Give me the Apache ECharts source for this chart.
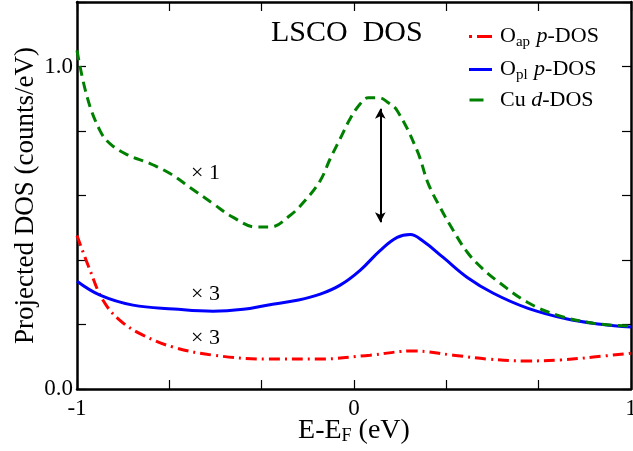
<!DOCTYPE html>
<html>
<head>
<meta charset="utf-8">
<script src="https://cdn.jsdelivr.net/npm/echarts@6/dist/echarts.min.js"></script>
<style>html,body{margin:0;padding:0;background:#fff;overflow:hidden}#c{width:633px;height:451px}</style>
</head>
<body>
<div id="c"></div>
<script>
// ---- data ----
const cuX = [-1, -0.963, -0.917, -0.881, -0.82, -0.736, -0.664, -0.592, -0.509, -0.436, -0.351, -0.303, -0.231, -0.176, -0.122, -0.086, -0.05, -0.014, 0.022, 0.051, 0.09, 0.12, 0.156, 0.228, 0.268, 0.311, 0.358, 0.409, 0.463, 0.528, 0.626, 0.734, 0.864, 1.0];
const cuY = [1.05, 0.904, 0.801, 0.761, 0.727, 0.699, 0.668, 0.625, 0.575, 0.532, 0.502, 0.502, 0.538, 0.585, 0.646, 0.714, 0.776, 0.838, 0.884, 0.903, 0.903, 0.89, 0.863, 0.739, 0.637, 0.563, 0.492, 0.424, 0.374, 0.328, 0.269, 0.229, 0.204, 0.195];
const oplX = [-1, -0.917, -0.798, -0.65, -0.509, -0.4, -0.314, -0.2, -0.122, -0.05, 0.022, 0.095, 0.156, 0.203, 0.25, 0.322, 0.409, 0.503, 0.626, 0.77, 0.89, 1.0];
const oplY = [0.334, 0.291, 0.26, 0.248, 0.241, 0.247, 0.26, 0.276, 0.294, 0.322, 0.368, 0.43, 0.47, 0.479, 0.458, 0.408, 0.346, 0.297, 0.251, 0.217, 0.201, 0.192];
const oapX = [-1, -0.953, -0.906, -0.845, -0.762, -0.653, -0.509, -0.314, -0.122, 0.058, 0.214, 0.358, 0.481, 0.626, 0.745, 0.864, 1.0];
const oapY = [0.476, 0.368, 0.275, 0.213, 0.167, 0.13, 0.105, 0.093, 0.093, 0.105, 0.118, 0.105, 0.093, 0.087, 0.09, 0.099, 0.111];
const arrowX = [0.095, 0.095];
const arrowY = [0.517, 0.869];
const seriesNames = ['Oap', 'Opl', 'Cu'];
const legendLabels = ['{t|O}{sub|ap}{t| }{it|p}{t|-DOS}', '{t|O}{sub|pl}{t| }{it|p}{t|-DOS}', '{t|Cu }{it|d}{t|-DOS}'];
const xTickLabels = ['-1', '0', '1'];
const yTickLabels = ['0.0', '1.0'];
const titleText = 'LSCO  DOS';
const factorLabels = ['\u00d7 1', '\u00d7 3', '\u00d7 3'];

const pairs = (xs, ys) => xs.map((x, i) => [x, ys[i]]);
const FONT = '"Liberation Serif", "DejaVu Serif", serif';

const chart = echarts.init(document.getElementById('c'), null, {renderer: 'canvas'});

const axisCommon = () => ({
  nameMoveOverlap: false,
  axisLine: {show: true, onZero: false, lineStyle: {color: '#000', width: 2.5}},
  axisTick: {show: true, inside: true, length: 9, lineStyle: {color: '#000', width: 1.2}},
  splitLine: {show: false}
});

// legend icons (line samples)
const legendIcons = [
  'path://M0,0h3v3h-3z M8,0h15v3h-15z',
  'path://M0,0h23v3h-23z',
  'path://M1,0h14v3h-14z M23,2.99h0.01v0.01h-0.01z'
];
const legendColors = ['#ff0000', '#0000ff', '#008000'];

const option = {
  backgroundColor: '#fff',
  animation: false,
  grid: {left: 77, right: 2, top: 2, bottom: 62, containLabel: false, outerBoundsMode: 'none'},
  legend: {
    orient: 'vertical', left: 464, top: 18, itemGap: 6,
    itemWidth: 23, itemHeight: 3,
    data: seriesNames.map((n, i) => ({name: n, icon: legendIcons[i], itemStyle: {color: legendColors[i]}})),
    formatter: n => legendLabels[seriesNames.indexOf(n)],
    textStyle: {
      fontFamily: FONT, fontSize: 22, color: '#000', padding: [0, 0, 0, 3],
      rich: {
        t: {fontFamily: FONT, fontSize: 22, color: '#000', height: 27, verticalAlign: 'bottom'},
        it: {fontFamily: FONT, fontSize: 22, color: '#000', fontStyle: 'italic', height: 27, verticalAlign: 'bottom'},
        sub: {fontFamily: FONT, fontSize: 15, color: '#000', lineHeight: 15, padding: [12, 1, 0, 0], verticalAlign: 'bottom'}
      }
    }
  },
  xAxis: [
    Object.assign({
      type: 'value', min: -1, max: 1, interval: 1 / 3,
      name: 'E-E{sub|F} (eV)', nameLocation: 'middle', nameGap: 28,
      nameTextStyle: {fontFamily: FONT, fontSize: 28, color: '#000',
        rich: {sub: {fontFamily: FONT, fontSize: 18, color: '#000', lineHeight: 18, padding: [16, 0, 0, 0], verticalAlign: 'bottom'}}},
      axisLabel: {
        fontFamily: FONT, fontSize: 23, color: '#000', margin: 8,
        formatter: v => {
          const r = Math.round(v);
          return Math.abs(v - r) < 1e-6 ? xTickLabels[r + 1] : '';
        }
      }
    }, axisCommon()),
    Object.assign({
      type: 'value', min: -1, max: 1, interval: 1 / 3, position: 'top',
      axisLabel: {show: false}
    }, axisCommon())
  ],
  yAxis: [
    Object.assign({
      type: 'value', min: 0, max: 1.2, interval: 0.2,
      name: 'Projected DOS (counts/eV)', nameLocation: 'middle', nameGap: 38,
      nameTextStyle: {fontFamily: FONT, fontSize: 27, color: '#000'},
      axisLabel: {
        fontFamily: FONT, fontSize: 23, color: '#000', margin: 4,
        formatter: v => Math.abs(v) < 1e-6 ? yTickLabels[0] : (Math.abs(v - 1) < 1e-6 ? yTickLabels[1] : '')
      }
    }, axisCommon()),
    Object.assign({
      type: 'value', min: 0, max: 1.2, interval: 0.2, position: 'right',
      axisLabel: {show: false}
    }, axisCommon())
  ],
  series: [
    {
      name: seriesNames[0], type: 'line', data: pairs(oapX, oapY), smooth: 0.4,
      showSymbol: false, symbol: 'none', color: '#ff0000',
      lineStyle: {color: '#ff0000', width: 3, type: [11, 5, 2, 5]}
    },
    {
      name: seriesNames[1], type: 'line', data: pairs(oplX, oplY), smooth: 0.4,
      showSymbol: false, symbol: 'none', color: '#0000ff',
      lineStyle: {color: '#0000ff', width: 3, type: 'solid'}
    },
    {
      name: seriesNames[2], type: 'line', data: pairs(cuX, cuY), smooth: 0.4,
      showSymbol: false, symbol: 'none', color: '#008000',
      lineStyle: {color: '#008000', width: 3, type: [10, 6]},
      markLine: {
        silent: true, symbol: ['arrow', 'arrow'], symbolSize: [8, 10],
        label: {show: false},
        lineStyle: {color: '#000', width: 2, type: 'solid'},
        data: [[{coord: [arrowX[0], arrowY[0]]}, {coord: [arrowX[1], arrowY[1]]}]]
      }
    }
  ],
  graphic: [
    {type: 'text', left: 271, top: 18, style: {text: titleText, fontFamily: FONT, fontSize: 30, fill: '#000'}},
    {type: 'text', left: 191, top: 162, style: {text: factorLabels[0], fontFamily: FONT, fontSize: 22, fill: '#000'}},
    {type: 'text', left: 191, top: 283, style: {text: factorLabels[1], fontFamily: FONT, fontSize: 22, fill: '#000'}},
    {type: 'text', left: 191, top: 327, style: {text: factorLabels[2], fontFamily: FONT, fontSize: 22, fill: '#000'}}
  ]
};
chart.setOption(option);
</script>
</body>
</html>
